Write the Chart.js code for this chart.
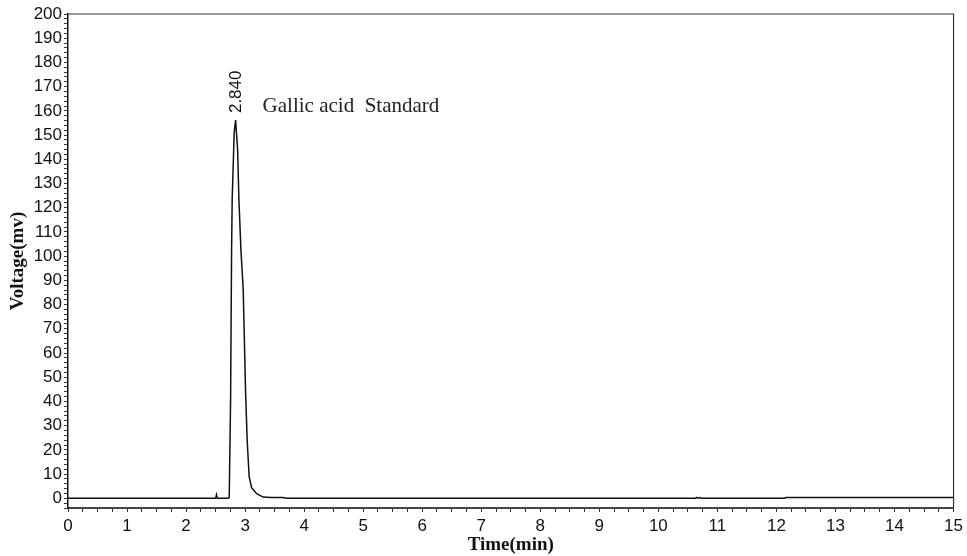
<!DOCTYPE html>
<html>
<head>
<meta charset="utf-8">
<title>Gallic acid Standard</title>
<script src="https://cdn.jsdelivr.net/npm/chart.js@4.4.1/dist/chart.umd.min.js"></script>
<style>
  body { margin: 0; background: #fff; }
  #wrap { width: 967px; height: 556px; }
</style>
</head>
<body>
<div id="wrap"><canvas id="chromChart"></canvas></div>
<script>
// chromatogram trace
const times = [0, 2.50, 2.515, 2.53, 2.72, 2.731, 2.754, 2.771, 2.781, 2.815, 2.839, 2.873, 2.895, 2.929,
  2.968, 2.985, 3.008, 3.035, 3.069, 3.11, 3.195, 3.306, 3.45, 3.64, 3.70, 10.63, 10.65, 10.67, 10.70, 10.72,
  12.14, 12.16, 15];
const voltages = [0, 0, 1.5, 0, 0, 0.5, 40.6, 102.7, 123.4, 151, 156.2, 144, 123.4, 102.7,
  86, 68, 44, 24, 8.8, 4.4, 1.9, 0.5, 0.35, 0.3, 0.05, 0.05, 0.35, 0.05, 0.35, 0.05,
  0.05, 0.35, 0.35];

const xRange = [0, 15];
const yRange = [-4, 200];
const peakTime = 2.839;
const peakHeight = 156.2;
const peakLabel = '2.840';
const sampleLabel = 'Gallic acid  Standard';

// frame + peak annotations
const chromPlugin = {
  id: 'chromPlugin',
  afterDatasetsDraw(chart) {
    const {ctx, chartArea, scales: {x, y}} = chart;
    ctx.save();
    ctx.strokeStyle = '#333';
    ctx.lineWidth = 1.2;
    ctx.beginPath();
    ctx.moveTo(chartArea.left, chartArea.top);
    ctx.lineTo(chartArea.right, chartArea.top);
    ctx.lineTo(chartArea.right, chartArea.bottom);
    ctx.stroke();

    const px = x.getPixelForValue(peakTime);
    const py = y.getPixelForValue(peakHeight);
    ctx.fillStyle = '#111';
    ctx.translate(px + 1, py - 7);
    ctx.rotate(-Math.PI / 2);
    ctx.font = '17px "Liberation Sans", Arial, sans-serif';
    ctx.textAlign = 'left';
    ctx.textBaseline = 'middle';
    ctx.fillText(peakLabel, 0, 0);
    ctx.restore();

    ctx.save();
    ctx.fillStyle = '#222';
    ctx.font = '21px "Liberation Serif", "Times New Roman", serif';
    ctx.textAlign = 'left';
    ctx.textBaseline = 'alphabetic';
    ctx.fillText(sampleLabel, px + 27, py - 8);
    ctx.restore();
  }
};

const tickFont = {family: '"Liberation Sans", Arial, sans-serif', size: 17};
const titleFont = {family: '"Liberation Serif", "Times New Roman", serif', size: 19, weight: 'bold'};

new Chart(document.getElementById('chromChart'), {
  type: 'line',
  data: {
    datasets: [{
      data: times.map((t, i) => ({x: t, y: voltages[i]})),
      borderColor: '#111',
      borderWidth: 1.5,
      pointRadius: 0,
      tension: 0,
      fill: false
    }]
  },
  options: {
    responsive: true,
    maintainAspectRatio: false,
    animation: false,
    layout: {padding: {top: 14, right: 13, left: 0, bottom: 0}},
    plugins: {legend: {display: false}, tooltip: {enabled: false}},
    scales: {
      x: {
        type: 'linear',
        min: xRange[0],
        max: xRange[1],
        border: {display: true, color: '#444', width: 2},
        grid: {drawOnChartArea: false, drawTicks: true, tickLength: 4, tickColor: '#333'},
        ticks: {
          stepSize: 0.25,
          autoSkip: false,
          maxRotation: 0,
          padding: 4,
          color: '#111',
          font: tickFont,
          callback: v => Number.isInteger(v) ? String(v) : ''
        },
        title: {display: true, text: 'Time(min)', color: '#111', font: titleFont, padding: {top: 0, bottom: 0}},
        afterFit: s => { s.height = 48; }
      },
      y: {
        type: 'linear',
        min: yRange[0],
        max: yRange[1],
        border: {display: true, color: '#111', width: 1.5},
        grid: {drawOnChartArea: false, drawTicks: true, tickLength: 4, tickColor: '#333'},
        ticks: {
          stepSize: 2,
          autoSkip: false,
          maxTicksLimit: 200,
          padding: 2,
          color: '#111',
          font: tickFont,
          callback: v => (v >= 0 && v % 10 === 0) ? String(v) : ''
        },
        title: {display: true, text: 'Voltage(mv)', color: '#111', font: titleFont, padding: {top: 7, bottom: 0}},
        afterFit: s => { s.width = 68; }
      }
    }
  },
  plugins: [chromPlugin]
});
</script>
</body>
</html>
